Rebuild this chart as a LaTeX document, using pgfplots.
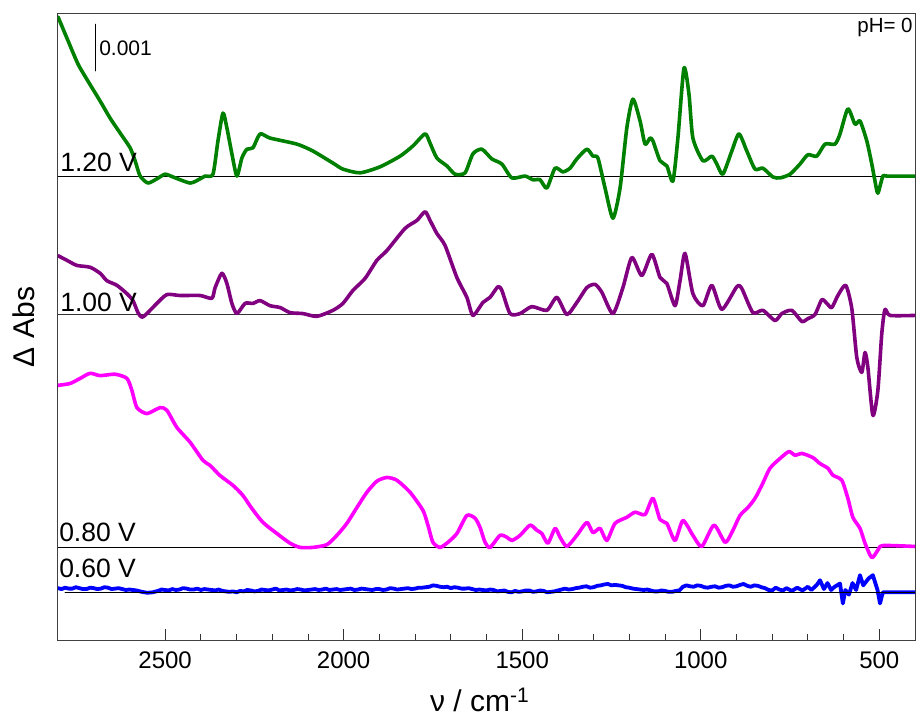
\documentclass[border=0pt]{standalone}
\usepackage{fontspec}
\setmainfont{Liberation Sans}
\usepackage{pgfplots}
\usepackage{pgfplotstable}
\pgfplotsset{compat=1.18}
\definecolor{cgreen}{RGB}{0,128,0}
\definecolor{cpurple}{RGB}{128,0,128}
\definecolor{cmagenta}{RGB}{255,0,255}
\definecolor{cblue}{RGB}{0,0,255}

% difference spectra, offsets in units of 0.001 Abs relative to each baseline
\pgfplotstableread{
x d
2800 3.46
2775 3.00
2744 2.44
2716 2.07
2682 1.64
2654 1.27
2626 0.95
2598 0.63
2584 0.35
2570 0.02
2548 -0.13
2523 -0.04
2500 0.06
2478 0.00
2430 -0.13
2402 -0.04
2388 0.02
2366 0.06
2352 0.78
2338 1.38
2327 1.06
2313 0.50
2299 0.02
2285 0.41
2271 0.60
2254 0.63
2234 0.93
2206 0.84
2131 0.71
2086 0.56
2030 0.30
2002 0.17
1954 0.09
1898 0.22
1842 0.45
1806 0.67
1772 0.93
1758 0.73
1739 0.41
1711 0.24
1688 0.06
1660 0.09
1638 0.50
1613 0.60
1585 0.39
1557 0.28
1529 -0.02
1492 0.02
1470 -0.06
1450 -0.06
1431 -0.24
1408 0.19
1386 0.11
1366 0.19
1347 0.39
1319 0.60
1302 0.45
1288 0.41
1268 -0.24
1246 -0.89
1226 -0.24
1207 1.06
1190 1.68
1170 1.21
1156 0.71
1142 0.84
1134 0.78
1114 0.35
1095 0.24
1078 -0.09
1064 0.84
1047 2.35
1033 1.79
1022 0.84
994 0.35
969 0.45
955 0.28
938 0.06
913 0.56
893 0.93
871 0.56
848 0.17
826 0.19
798 0.00
778 -0.02
750 0.06
722 0.28
700 0.48
675 0.45
652 0.71
624 0.71
610 0.93
588 1.47
568 1.14
554 1.21
535 0.78
521 0.28
512 -0.09
504 -0.35
490 0.02
479 0.02
400 0.02
}\greenV

\pgfplotstableread{
x d
2800 1.27
2775 1.17
2747 1.06
2710 1.02
2682 0.89
2663 0.73
2635 0.63
2607 0.45
2590 0.30
2576 0.04
2565 -0.06
2551 0.02
2523 0.24
2495 0.43
2458 0.41
2402 0.41
2369 0.35
2360 0.58
2341 0.89
2327 0.67
2313 0.24
2299 0.02
2276 0.24
2254 0.24
2234 0.30
2206 0.19
2178 0.15
2150 0.04
2114 0.02
2075 -0.04
2030 0.09
2002 0.24
1974 0.52
1940 0.78
1907 1.17
1879 1.38
1828 1.86
1795 2.03
1772 2.22
1758 2.03
1739 1.75
1716 1.49
1683 0.80
1655 0.37
1638 -0.02
1610 0.26
1590 0.37
1568 0.60
1557 0.52
1534 0.02
1506 0.02
1473 0.17
1431 0.09
1403 0.37
1375 0.00
1347 0.26
1319 0.58
1296 0.65
1277 0.48
1246 0.02
1218 0.58
1193 1.23
1165 0.84
1137 1.30
1114 0.80
1095 0.67
1072 0.19
1058 0.73
1044 1.32
1022 0.45
994 0.19
969 0.63
941 0.11
899 0.60
885 0.56
854 0.04
826 0.09
792 -0.13
773 0.02
745 0.09
717 -0.15
700 -0.09
680 0.00
661 0.32
647 0.24
633 0.15
616 0.41
594 0.63
577 0.13
563 -0.93
549 -1.25
540 -0.82
532 -1.14
518 -2.18
504 -1.64
493 -0.41
484 0.11
470 -0.02
400 -0.02
}\purpleV

\pgfplotstableread{
x d
2800 3.50
2766 3.54
2738 3.65
2710 3.76
2682 3.71
2640 3.74
2607 3.65
2593 3.39
2579 3.02
2551 2.89
2514 3.02
2495 2.96
2467 2.59
2430 2.27
2394 1.88
2374 1.77
2346 1.55
2310 1.34
2282 1.12
2257 0.84
2226 0.54
2187 0.30
2150 0.09
2122 0.00
2086 0.00
2047 0.06
2019 0.26
1991 0.52
1963 0.86
1935 1.19
1907 1.43
1879 1.51
1851 1.45
1814 1.19
1778 0.80
1764 0.48
1750 0.11
1730 0.00
1708 0.11
1683 0.30
1655 0.69
1632 0.63
1618 0.43
1604 0.11
1590 0.00
1562 0.26
1543 0.22
1529 0.15
1506 0.26
1478 0.48
1459 0.37
1445 0.30
1428 0.09
1408 0.41
1394 0.22
1375 0.02
1347 0.26
1319 0.54
1302 0.32
1282 0.41
1263 0.15
1240 0.52
1207 0.65
1184 0.76
1156 0.71
1134 1.06
1114 0.60
1095 0.52
1072 0.15
1050 0.58
1022 0.26
997 0.02
963 0.48
932 0.11
913 0.32
890 0.69
868 0.86
848 1.06
829 1.34
806 1.71
778 1.92
753 2.07
736 1.99
717 2.03
686 1.94
666 1.81
644 1.71
630 1.56
605 1.45
588 1.06
574 0.65
554 0.41
540 0.09
521 -0.22
504 -0.06
490 0.04
400 0.02
}\magentaV

\pgfplotstableread{
x d
2800 0.09
2790 0.07
2780 0.10
2770 0.08
2760 0.08
2750 0.11
2740 0.09
2730 0.07
2720 0.07
2710 0.10
2700 0.09
2690 0.07
2680 0.08
2670 0.11
2660 0.10
2650 0.07
2640 0.08
2630 0.09
2620 0.07
2610 0.05
2600 0.06
2590 0.05
2580 0.04
2565 0.01
2550 -0.01
2535 0.00
2520 0.03
2510 0.06
2500 0.05
2490 0.04
2480 0.07
2470 0.05
2460 0.06
2450 0.09
2440 0.08
2430 0.06
2420 0.06
2410 0.08
2400 0.05
2390 0.07
2380 0.06
2370 0.05
2360 0.04
2350 0.06
2340 0.03
2330 0.02
2320 0.01
2310 0.02
2300 0.00
2290 0.03
2280 0.02
2270 0.05
2260 0.04
2250 0.02
2240 0.03
2230 0.06
2220 0.05
2210 0.04
2200 0.06
2190 0.08
2180 0.04
2170 0.05
2160 0.06
2150 0.04
2140 0.05
2130 0.07
2120 0.06
2110 0.04
2100 0.05
2090 0.06
2080 0.07
2070 0.05
2060 0.06
2050 0.08
2040 0.05
2030 0.06
2020 0.07
2010 0.05
2000 0.06
1990 0.07
1980 0.08
1970 0.05
1960 0.06
1950 0.08
1940 0.07
1930 0.06
1920 0.05
1910 0.07
1900 0.07
1890 0.05
1880 0.06
1870 0.09
1860 0.08
1850 0.06
1840 0.07
1830 0.08
1820 0.09
1810 0.07
1800 0.08
1790 0.10
1780 0.10
1770 0.11
1760 0.12
1750 0.15
1740 0.14
1730 0.12
1720 0.11
1710 0.12
1700 0.09
1690 0.11
1680 0.10
1670 0.08
1660 0.08
1650 0.09
1640 0.07
1630 0.05
1620 0.06
1610 0.05
1600 0.04
1590 0.06
1580 0.05
1570 0.02
1560 0.03
1550 0.04
1540 0.01
1530 0.00
1520 0.03
1510 0.01
1500 0.02
1490 0.04
1480 0.04
1470 0.01
1460 0.02
1450 0.04
1440 0.03
1430 0.00
1420 0.01
1410 0.02
1400 0.04
1390 0.06
1380 0.08
1370 0.06
1360 0.07
1350 0.09
1340 0.10
1330 0.12
1320 0.13
1310 0.10
1300 0.11
1290 0.14
1280 0.15
1270 0.17
1260 0.18
1250 0.15
1240 0.16
1230 0.15
1220 0.14
1210 0.11
1200 0.10
1190 0.08
1180 0.07
1170 0.06
1160 0.05
1150 0.06
1140 0.04
1130 0.02
1120 0.02
1110 0.04
1100 0.03
1090 0.01
1080 0.01
1070 0.03
1060 0.04
1050 0.12
1040 0.15
1030 0.13
1020 0.12
1010 0.15
1000 0.14
990 0.11
980 0.10
970 0.12
960 0.13
950 0.10
940 0.11
930 0.14
920 0.15
910 0.12
900 0.13
890 0.16
880 0.18
870 0.14
860 0.12
850 0.15
840 0.14
830 0.11
820 0.09
810 0.05
800 0.04
790 0.10
780 0.06
770 0.04
760 0.09
745 0.03
730 0.10
715 0.04
700 0.12
690 0.05
675 0.16
666 0.26
655 0.07
645 0.20
635 0.05
625 0.12
610 0.19
602 -0.24
595 0.05
585 -0.05
575 0.20
565 0.05
554 0.37
545 0.15
530 0.30
518 0.37
505 0.05
498 -0.24
490 0.00
400 0.00
}\blueV

\begin{document}
\begin{tikzpicture}
\useasboundingbox (-58pt,-80pt) rectangle (859pt,640pt);
\begin{axis}[
  scale only axis, width=857pt, height=626pt,
  x dir=reverse, xmin=400, xmax=2800, ymin=0, ymax=13.52,
  xtick={500,1000,...,2500}, minor x tick num=4,
  ytick=\empty, minor ytick={1,...,13},
  tick align=inside, xtick pos=bottom, ytick pos=left,
  major tick length=11pt, minor tick length=6pt,
  tick style={black!80, line width=0.8pt},
  axis line style={black!75, line width=1pt},
  /pgf/number format/1000 sep={},
  /pgf/number format/assume math mode=true,
  tick label style={font=\fontsize{24}{28}\selectfont},
  xticklabel style={yshift=-8pt},
  xlabel={ν / cm\textsuperscript{-1}},
  xlabel style={font=\fontsize{30}{34}\selectfont, at={(axis description cs:0.492,-0.115)}, anchor=base},
  ylabel={Δ Abs},
  ylabel style={font=\fontsize{30}{34}\selectfont, at={(axis description cs:-0.04,0.5)}, anchor=center},
  every axis plot/.append style={line join=round, line cap=round},
]
% 1.20 V
\addplot[black, line width=1pt] coordinates {(2800,10) (400,10)};
\addplot[cgreen, line width=3.6pt, smooth, tension=0.4] table[x=x, y expr=\thisrow{d}+10] {\greenV};
% 1.00 V
\addplot[black!80, line width=1pt] coordinates {(2800,7.03) (400,7.03)};
\addplot[cpurple, line width=3.6pt, smooth, tension=0.4] table[x=x, y expr=\thisrow{d}+7.03] {\purpleV};
% 0.80 V
\addplot[black, line width=1pt] coordinates {(2800,2.0) (400,2.0)};
\addplot[cmagenta, line width=3.6pt, smooth, tension=0.4] table[x=x, y expr=\thisrow{d}+2.0] {\magentaV};
% 0.60 V
\addplot[cblue, line width=3.8pt] table[x=x, y expr=\thisrow{d}+1.03] {\blueV};
\addplot[black, line width=1pt] coordinates {(2780,1.03) (400,1.03)};
% scale bar
\addplot[black, line width=0.8pt] coordinates {(2696,12.29) (2696,13.30)};
\node[anchor=west, inner sep=0pt, font=\fontsize{21}{25}\selectfont] at (axis cs:2685,12.78) {0.001};
% potential labels
\node[anchor=base west, inner sep=0pt, font=\fontsize{26.5}{30}\selectfont] at (axis cs:2794,10.11) {1.20 V};
\node[anchor=base west, inner sep=0pt, font=\fontsize{26.5}{30}\selectfont] at (axis cs:2794,7.10) {1.00 V};
\node[anchor=base west, inner sep=0pt, font=\fontsize{26.5}{30}\selectfont] at (axis cs:2797,2.12) {0.80 V};
\node[anchor=base west, inner sep=0pt, font=\fontsize{26.5}{30}\selectfont] at (axis cs:2797,1.34) {0.60 V};
\node[anchor=base east, inner sep=0pt, font=\fontsize{20.5}{24}\selectfont] at (axis cs:406,13.11) {pH= 0};
\end{axis}
\end{tikzpicture}
\end{document}
